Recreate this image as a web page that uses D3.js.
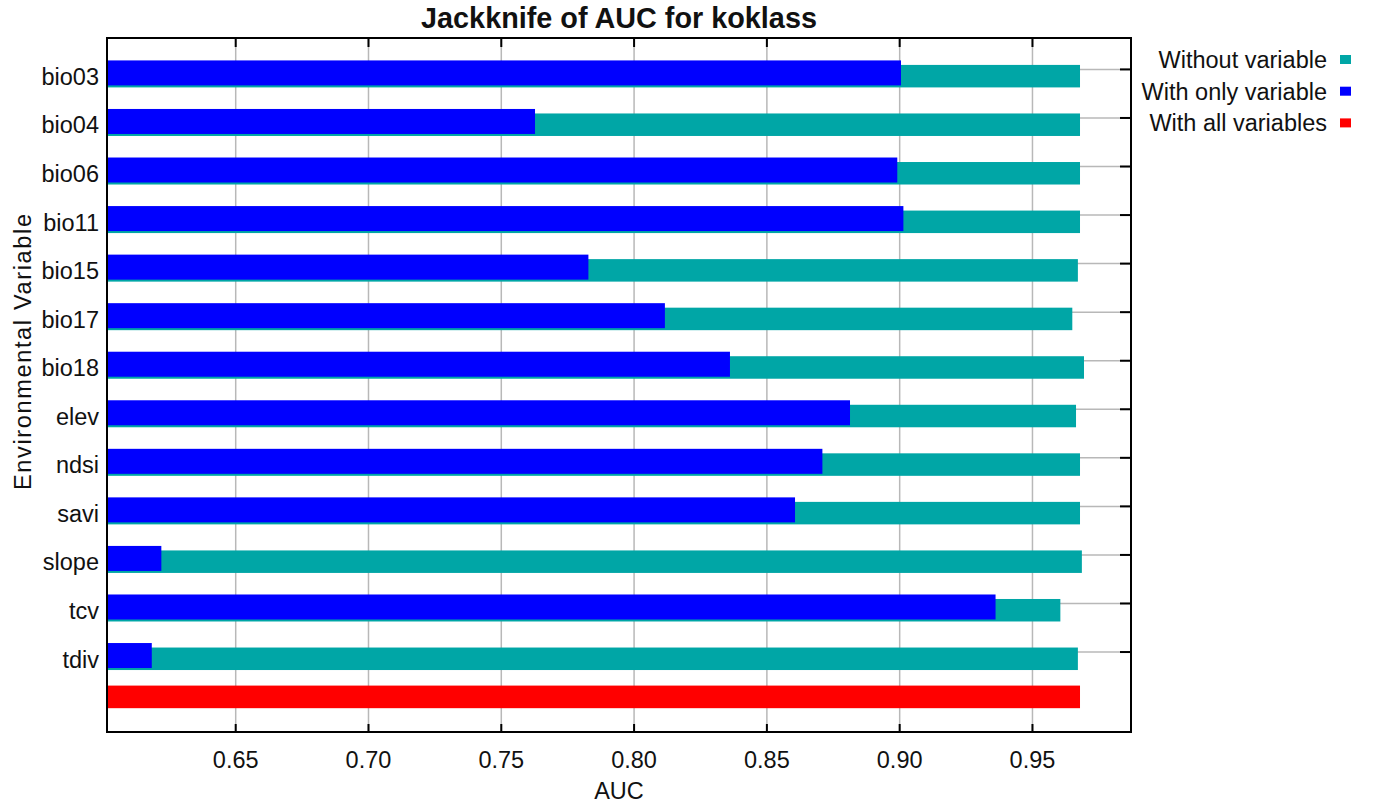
<!DOCTYPE html>
<html>
<head>
<meta charset="utf-8">
<script src="https://cdn.jsdelivr.net/npm/d3@7"></script>
<style>
  html, body { margin: 0; padding: 0; background: #fff; }
  svg text { font-family: "Liberation Sans", Arial, sans-serif; fill: #111; }
</style>
</head>
<body>
<div id="chart"></div>
<script>
// Jackknife of AUC data
const variables = ['bio03', 'bio04', 'bio06', 'bio11', 'bio15', 'bio17', 'bio18',
  'elev', 'ndsi', 'savi', 'slope', 'tcv', 'tdiv'];
const withoutVariable = [0.9679, 0.9679, 0.9679, 0.9679, 0.9671, 0.9650, 0.9694,
  0.9664, 0.9679, 0.9679, 0.9686, 0.9605, 0.9671];
const withOnlyVariable = [0.9005, 0.7627, 0.8991, 0.9014, 0.7828, 0.8116, 0.8361,
  0.8813, 0.8709, 0.8606, 0.6220, 0.9361, 0.6184];
const withAllVariables = 0.9679;
const xTicks = [0.65, 0.70, 0.75, 0.80, 0.85, 0.90, 0.95];
const legendLabels = ['Without variable', 'With only variable', 'With all variables'];
const legendColors = ['#00a6a6', '#0000ff', '#ff0000'];

const W = 1377, H = 807;
const plotLeft = 107, plotRight = 1131, plotTop = 38, plotBottom = 732;
const fontSize = '23.5px';

const svg = d3.select('#chart').append('svg')
  .attr('width', W)
  .attr('height', H);

const x = d3.scaleLinear()
  .domain([0.60154, 0.9871])
  .range([plotLeft, plotRight]);

const rows = [...variables, '__all'];
const y = d3.scalePoint()
  .domain(rows)
  .range([plotTop, plotBottom])
  .padding(0.647);

// vertical grid
svg.append('g')
  .selectAll('line')
  .data(xTicks)
  .enter()
  .append('line')
  .attr('x1', d => x(d)).attr('x2', d => x(d))
  .attr('y1', plotTop).attr('y2', plotBottom)
  .attr('stroke', '#b8b8b8')
  .attr('stroke-width', 1.5);

// horizontal grid
svg.append('g')
  .selectAll('line')
  .data(variables)
  .enter()
  .append('line')
  .attr('x1', plotLeft).attr('x2', plotRight)
  .attr('y1', d => y(d)).attr('y2', d => y(d))
  .attr('stroke', '#b8b8b8')
  .attr('stroke-width', 1.5);

// Without variable bars
svg.append('g')
  .selectAll('rect')
  .data(variables)
  .enter()
  .append('rect')
  .attr('x', plotLeft)
  .attr('y', d => y(d) - 4.5)
  .attr('width', (d, i) => x(withoutVariable[i]) - plotLeft)
  .attr('height', 22.5)
  .attr('fill', legendColors[0]);

// With only variable bars
svg.append('g')
  .selectAll('rect')
  .data(variables)
  .enter()
  .append('rect')
  .attr('x', plotLeft)
  .attr('y', d => y(d) - 9)
  .attr('width', (d, i) => x(withOnlyVariable[i]) - plotLeft)
  .attr('height', 25)
  .attr('fill', legendColors[1]);

// With all variables
svg.append('rect')
  .attr('x', plotLeft)
  .attr('y', y('__all') - 15)
  .attr('width', x(withAllVariables) - plotLeft)
  .attr('height', 22.6)
  .attr('fill', legendColors[2]);

// frame
svg.append('rect')
  .attr('x', plotLeft).attr('y', plotTop)
  .attr('width', plotRight - plotLeft).attr('height', plotBottom - plotTop)
  .attr('fill', 'none')
  .attr('stroke', '#000')
  .attr('stroke-width', 2);

// bottom / top ticks (inward), right ticks at categories
const tickG = svg.append('g').attr('stroke', '#000').attr('stroke-width', 2);
xTicks.forEach(t => {
  tickG.append('line').attr('x1', x(t)).attr('x2', x(t)).attr('y1', plotBottom).attr('y2', plotBottom - 8);
  tickG.append('line').attr('x1', x(t)).attr('x2', x(t)).attr('y1', plotTop).attr('y2', plotTop + 9);
});
variables.forEach(v => {
  tickG.append('line').attr('x1', plotRight).attr('x2', plotRight - 11).attr('y1', y(v)).attr('y2', y(v));
});

// x tick labels
svg.append('g')
  .selectAll('text')
  .data(xTicks)
  .enter()
  .append('text')
  .attr('x', d => x(d))
  .attr('y', 768)
  .attr('text-anchor', 'middle')
  .style('font-size', fontSize)
  .text(d => d3.format('.2f')(d));

// y labels
svg.append('g')
  .selectAll('text')
  .data(variables)
  .enter()
  .append('text')
  .attr('x', 99)
  .attr('y', d => y(d) + 15.5)
  .attr('text-anchor', 'end')
  .style('font-size', fontSize)
  .text(d => d);

// axis titles
svg.append('text')
  .attr('x', (plotLeft + plotRight) / 2)
  .attr('y', 799)
  .attr('text-anchor', 'middle')
  .style('font-size', fontSize)
  .text('AUC');

svg.append('text')
  .attr('transform', 'translate(31,352) rotate(-90)')
  .attr('text-anchor', 'middle')
  .attr('textLength', 276)
  .attr('lengthAdjust', 'spacing')
  .style('font-size', fontSize)
  .text('Environmental Variable');

svg.append('text')
  .attr('x', (plotLeft + plotRight) / 2)
  .attr('y', 28)
  .attr('text-anchor', 'middle')
  .style('font-size', '28.8px')
  .style('font-weight', 'bold')
  .text('Jackknife of AUC for koklass');

// legend
const legend = svg.append('g');
legendLabels.forEach((l, i) => {
  const g = legend.append('g').attr('transform', `translate(0, ${i * 31.7})`);
  g.append('text')
    .attr('x', 1327)
    .attr('y', 68)
    .attr('text-anchor', 'end')
    .style('font-size', fontSize)
    .text(l);
  g.append('rect')
    .attr('x', 1340).attr('y', 55)
    .attr('width', 11).attr('height', 9)
    .attr('fill', legendColors[i]);
});
</script>
</body>
</html>
